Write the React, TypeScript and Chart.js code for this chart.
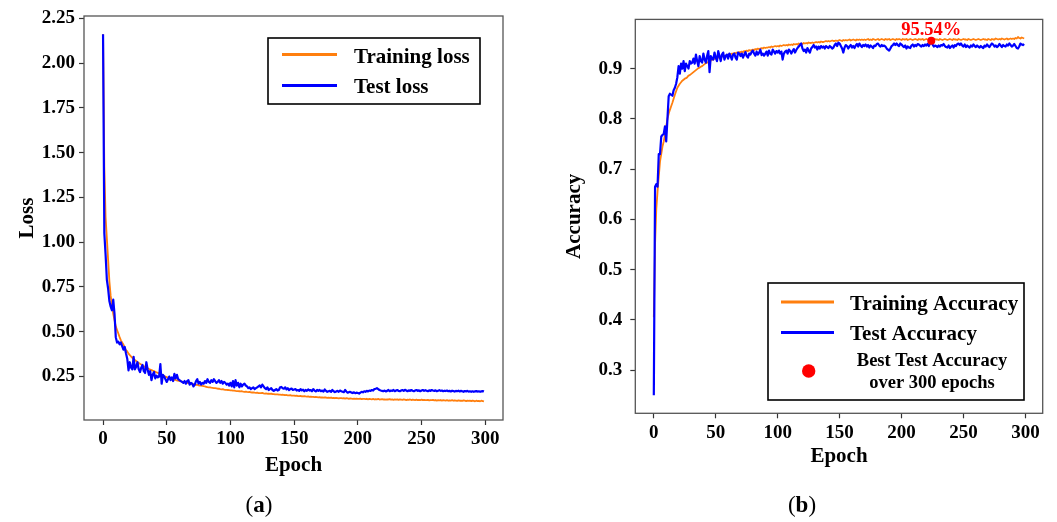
import React, { useEffect, useRef } from "react";
import { Chart, registerables } from "chart.js";

Chart.register(...registerables);

const FONT = "'Liberation Serif', 'Times New Roman', serif";
const ORANGE = "#ff7f0e";
const BLUE = "#0000ff";

const epochs: number[] = Array.from({ length: 300 }, (_, i) => i);

const trainLoss = [
  2.16, 1.42, 1.14, 1.02, 0.90, 0.78, 0.70, 0.65, 0.60, 0.565,
  0.53, 0.51, 0.49, 0.47, 0.452, 0.44, 0.428, 0.412, 0.398, 0.39,
  0.378, 0.37, 0.362, 0.355, 0.348, 0.342, 0.337, 0.331, 0.326, 0.321,
  0.317, 0.312, 0.308, 0.303, 0.300, 0.297, 0.292, 0.289, 0.286, 0.283,
  0.281, 0.277, 0.273, 0.271, 0.268, 0.266, 0.262, 0.257, 0.253, 0.25,
  0.247, 0.244, 0.241, 0.239, 0.237, 0.235, 0.232, 0.231, 0.228, 0.227,
  0.225, 0.224, 0.221, 0.22, 0.219, 0.216, 0.215, 0.214, 0.211, 0.21,
  0.209, 0.207, 0.206, 0.204, 0.204, 0.201, 0.2, 0.2, 0.198, 0.196,
  0.195, 0.193, 0.191, 0.19, 0.19, 0.188, 0.187, 0.186, 0.185, 0.184,
  0.182, 0.182, 0.18, 0.179, 0.18, 0.177, 0.176, 0.176, 0.175, 0.174,
  0.173, 0.173, 0.171, 0.172, 0.17, 0.169, 0.169, 0.168, 0.167, 0.168,
  0.166, 0.165, 0.166, 0.164, 0.163, 0.164, 0.162, 0.161, 0.162, 0.160,
  0.159, 0.160, 0.158, 0.158, 0.157, 0.159, 0.156, 0.155, 0.156, 0.154,
  0.154, 0.153, 0.155, 0.152, 0.152, 0.151, 0.150, 0.151, 0.149, 0.149,
  0.148, 0.149, 0.147, 0.146, 0.147, 0.145, 0.145, 0.146, 0.144, 0.143,
  0.144, 0.142, 0.143, 0.141, 0.141, 0.142, 0.140, 0.139, 0.141, 0.139,
  0.138, 0.139, 0.137, 0.138, 0.136, 0.137, 0.135, 0.136, 0.135, 0.134,
  0.135, 0.133, 0.134, 0.132, 0.134, 0.133, 0.131, 0.132, 0.131, 0.133,
  0.130, 0.131, 0.129, 0.131, 0.130, 0.128, 0.13, 0.129, 0.128, 0.129,
  0.127, 0.129, 0.128, 0.126, 0.128, 0.127, 0.126, 0.127, 0.125, 0.127,
  0.126, 0.125, 0.127, 0.124, 0.126, 0.125, 0.124, 0.126, 0.123, 0.125,
  0.124, 0.123, 0.125, 0.122, 0.124, 0.123, 0.125, 0.122, 0.123, 0.124,
  0.122, 0.123, 0.121, 0.123, 0.122, 0.124, 0.121, 0.122, 0.120, 0.122,
  0.121, 0.123, 0.120, 0.122, 0.121, 0.120, 0.122, 0.121, 0.119, 0.121,
  0.120, 0.122, 0.119, 0.121, 0.120, 0.119, 0.121, 0.118, 0.120, 0.119,
  0.121, 0.118, 0.120, 0.119, 0.118, 0.120, 0.117, 0.119, 0.118, 0.12,
  0.117, 0.119, 0.116, 0.118, 0.117, 0.119, 0.116, 0.118, 0.117, 0.116,
  0.118, 0.115, 0.117, 0.116, 0.118, 0.115, 0.117, 0.116, 0.114, 0.117,
  0.115, 0.116, 0.114, 0.117, 0.115, 0.113, 0.116, 0.114, 0.115, 0.113,
  0.116, 0.114, 0.112, 0.115, 0.113, 0.114, 0.112, 0.115, 0.113, 0.111,
];

const testLoss = [
  2.16, 1.05, 0.93, 0.79, 0.74, 0.67, 0.64, 0.62, 0.68, 0.60,
  0.47, 0.44, 0.445, 0.43, 0.44, 0.42, 0.40, 0.415, 0.38, 0.35,
  0.285, 0.33, 0.30, 0.29, 0.36, 0.29, 0.305, 0.33, 0.29, 0.275,
  0.30, 0.315, 0.28, 0.27, 0.33, 0.29, 0.26, 0.28, 0.23, 0.26,
  0.275, 0.24, 0.255, 0.245, 0.25, 0.32, 0.21, 0.26, 0.25, 0.235,
  0.22, 0.235, 0.25, 0.23, 0.245, 0.225, 0.265, 0.24, 0.26, 0.235,
  0.23, 0.225, 0.22, 0.215, 0.225, 0.21, 0.225, 0.23, 0.205, 0.215,
  0.21, 0.195, 0.205, 0.225, 0.235, 0.21, 0.22, 0.205, 0.215, 0.21,
  0.225, 0.215, 0.235, 0.22, 0.215, 0.23, 0.22, 0.235, 0.225, 0.215,
  0.22, 0.23, 0.215, 0.225, 0.21, 0.22, 0.215, 0.205, 0.21, 0.20,
  0.215, 0.195, 0.225, 0.19, 0.23, 0.20, 0.215, 0.19, 0.21, 0.195,
  0.205, 0.21, 0.2, 0.195, 0.185, 0.19, 0.18, 0.185, 0.19, 0.18,
  0.185, 0.19, 0.195, 0.2, 0.19, 0.205, 0.195, 0.185, 0.18, 0.19,
  0.175, 0.18, 0.185, 0.175, 0.17, 0.175, 0.18, 0.172, 0.175, 0.19,
  0.192, 0.185, 0.182, 0.19, 0.178, 0.185, 0.175, 0.18, 0.183, 0.175,
  0.178, 0.18, 0.172, 0.175, 0.17, 0.18, 0.173, 0.177, 0.168, 0.175,
  0.17, 0.178, 0.172, 0.175, 0.168, 0.18, 0.172, 0.167, 0.175, 0.17,
  0.175, 0.168, 0.172, 0.166, 0.178, 0.17, 0.165, 0.168, 0.17, 0.165,
  0.175, 0.168, 0.163, 0.167, 0.17, 0.165, 0.172, 0.168, 0.165, 0.163,
  0.175, 0.167, 0.16, 0.163, 0.165, 0.16, 0.158, 0.162, 0.157, 0.16,
  0.158, 0.155, 0.16, 0.165, 0.162, 0.168, 0.165, 0.17, 0.167, 0.172,
  0.17, 0.175, 0.172, 0.18, 0.182, 0.185, 0.18, 0.175, 0.172, 0.17,
  0.168, 0.172, 0.167, 0.17, 0.175, 0.168, 0.172, 0.17, 0.175, 0.168,
  0.172, 0.175, 0.17, 0.168, 0.172, 0.175, 0.17, 0.176, 0.172, 0.168,
  0.173, 0.17, 0.175, 0.171, 0.168, 0.172, 0.175, 0.17, 0.173, 0.168,
  0.172, 0.175, 0.17, 0.174, 0.171, 0.168, 0.173, 0.17, 0.175, 0.172,
  0.17, 0.173, 0.168, 0.171, 0.174, 0.17, 0.172, 0.168, 0.171, 0.169,
  0.172, 0.168, 0.17, 0.167, 0.171, 0.169, 0.166, 0.17, 0.168, 0.171,
  0.167, 0.17, 0.168, 0.165, 0.169, 0.167, 0.17, 0.166, 0.168, 0.165,
  0.168, 0.165, 0.167, 0.169, 0.166, 0.168, 0.165, 0.167, 0.169, 0.166,
];

const trainAcc = [
  0.405, 0.55, 0.62, 0.655, 0.685, 0.715, 0.73, 0.745, 0.755, 0.768,
  0.785, 0.80, 0.81, 0.818, 0.825, 0.832, 0.84, 0.848, 0.855, 0.862,
  0.866, 0.87, 0.873, 0.876, 0.878, 0.88, 0.881, 0.883, 0.886, 0.887,
  0.889, 0.891, 0.893, 0.895, 0.897, 0.899, 0.901, 0.902, 0.904, 0.905,
  0.907, 0.909, 0.911, 0.912, 0.913, 0.915, 0.916, 0.918, 0.918, 0.92,
  0.921, 0.921, 0.922, 0.923, 0.923, 0.924, 0.925, 0.925, 0.926, 0.927,
  0.928, 0.929, 0.929, 0.93, 0.93, 0.931, 0.931, 0.932, 0.932, 0.933,
  0.933, 0.934, 0.933, 0.935, 0.935, 0.936, 0.935, 0.937, 0.936, 0.937,
  0.938, 0.937, 0.939, 0.938, 0.94, 0.939, 0.94, 0.941, 0.94, 0.942,
  0.941, 0.942, 0.942, 0.943, 0.942, 0.944, 0.943, 0.944, 0.945, 0.944,
  0.945, 0.944, 0.946, 0.945, 0.946, 0.947, 0.946, 0.947, 0.946, 0.948,
  0.947, 0.948, 0.947, 0.949, 0.948, 0.949, 0.948, 0.95, 0.949, 0.95,
  0.949, 0.951, 0.95, 0.951, 0.95, 0.952, 0.951, 0.951, 0.952, 0.951,
  0.952, 0.953, 0.952, 0.953, 0.952, 0.954, 0.953, 0.953, 0.954, 0.955,
  0.954, 0.955, 0.954, 0.955, 0.956, 0.955, 0.955, 0.956, 0.955, 0.956,
  0.957, 0.956, 0.955, 0.957, 0.956, 0.957, 0.956, 0.957, 0.958, 0.956,
  0.957, 0.958, 0.957, 0.956, 0.958, 0.957, 0.958, 0.957, 0.958, 0.957,
  0.958, 0.957, 0.958, 0.959, 0.957, 0.958, 0.957, 0.959, 0.958, 0.957,
  0.958, 0.959, 0.957, 0.958, 0.959, 0.958, 0.957, 0.959, 0.958, 0.958,
  0.959, 0.957, 0.958, 0.959, 0.958, 0.957, 0.959, 0.958, 0.959, 0.958,
  0.957, 0.959, 0.958, 0.958, 0.959, 0.957, 0.958, 0.959, 0.958, 0.957,
  0.958, 0.959, 0.958, 0.957, 0.959, 0.958, 0.958, 0.959, 0.957, 0.958,
  0.959, 0.958, 0.957, 0.958, 0.959, 0.958, 0.957, 0.959, 0.958, 0.958,
  0.957, 0.959, 0.958, 0.957, 0.958, 0.959, 0.958, 0.957, 0.958, 0.959,
  0.958, 0.957, 0.959, 0.958, 0.958, 0.957, 0.959, 0.958, 0.957, 0.958,
  0.959, 0.958, 0.958, 0.957, 0.959, 0.958, 0.957, 0.958, 0.959, 0.958,
  0.957, 0.958, 0.959, 0.958, 0.957, 0.958, 0.959, 0.958, 0.958, 0.957,
  0.959, 0.958, 0.957, 0.959, 0.958, 0.958, 0.96, 0.959, 0.958, 0.959,
  0.958, 0.96, 0.959, 0.958, 0.959, 0.96, 0.958, 0.959, 0.96, 0.959,
  0.96, 0.959, 0.961, 0.96, 0.963, 0.961, 0.96, 0.962, 0.961, 0.96,
];

const testAcc = [
  0.25, 0.665, 0.67, 0.665, 0.73, 0.73, 0.765, 0.768, 0.77, 0.785,
  0.755, 0.80, 0.845, 0.85, 0.848, 0.846, 0.857, 0.862, 0.87, 0.883,
  0.905, 0.89, 0.91, 0.90, 0.915, 0.895, 0.91, 0.905, 0.90, 0.915,
  0.91, 0.912, 0.92, 0.91, 0.928, 0.915, 0.905, 0.925, 0.915, 0.912,
  0.93, 0.918, 0.912, 0.925, 0.935, 0.893, 0.925, 0.92, 0.918, 0.932,
  0.922, 0.915, 0.935, 0.925, 0.915, 0.928, 0.932, 0.918, 0.925, 0.928,
  0.92, 0.93, 0.925, 0.918, 0.928, 0.93, 0.922, 0.918, 0.932, 0.93,
  0.925, 0.93, 0.922, 0.928, 0.933, 0.925, 0.922, 0.93, 0.928, 0.933,
  0.936, 0.93, 0.926, 0.934, 0.928, 0.932, 0.938, 0.927, 0.93, 0.926,
  0.93, 0.934, 0.926, 0.936, 0.93, 0.928, 0.938, 0.934, 0.93, 0.935,
  0.932, 0.936, 0.93, 0.934, 0.918, 0.93, 0.934, 0.936, 0.93, 0.938,
  0.935, 0.93, 0.935, 0.939, 0.932, 0.937, 0.941, 0.944, 0.947, 0.95,
  0.94, 0.935, 0.938, 0.932, 0.941, 0.936, 0.932, 0.94, 0.943, 0.947,
  0.942, 0.944, 0.938, 0.944, 0.94, 0.945, 0.942, 0.944, 0.94, 0.945,
  0.943, 0.941, 0.945, 0.943, 0.94, 0.942, 0.947, 0.95, 0.945, 0.952,
  0.95, 0.945, 0.94, 0.932, 0.942, 0.947, 0.945, 0.94, 0.944, 0.947,
  0.942, 0.945, 0.941, 0.946, 0.949, 0.944, 0.95, 0.946, 0.943, 0.947,
  0.945, 0.948, 0.944, 0.947, 0.942, 0.946, 0.944, 0.941, 0.946, 0.945,
  0.949, 0.95, 0.946, 0.944, 0.947, 0.945, 0.946, 0.944, 0.94, 0.938,
  0.936, 0.94, 0.945, 0.947, 0.95, 0.947, 0.95, 0.947, 0.945, 0.95,
  0.948, 0.945, 0.943, 0.946, 0.94, 0.944, 0.942, 0.941, 0.946, 0.948,
  0.944, 0.947, 0.945, 0.949, 0.948, 0.946, 0.944, 0.947, 0.945, 0.948,
  0.946, 0.949, 0.945, 0.95, 0.9554, 0.948, 0.944, 0.946, 0.945, 0.943,
  0.946, 0.944, 0.947, 0.946, 0.949, 0.945, 0.943, 0.942, 0.946, 0.941,
  0.944, 0.946, 0.942, 0.947, 0.945, 0.949, 0.95, 0.947, 0.95, 0.946,
  0.944, 0.948, 0.943, 0.946, 0.944, 0.942, 0.946, 0.944, 0.948, 0.945,
  0.943, 0.946, 0.944, 0.942, 0.945, 0.943, 0.941, 0.946, 0.944, 0.948,
  0.945, 0.943, 0.947, 0.95, 0.948, 0.944, 0.946, 0.943, 0.945, 0.949,
  0.946, 0.943, 0.947, 0.945, 0.944, 0.948, 0.946, 0.95, 0.947, 0.944,
  0.946, 0.949, 0.945, 0.941, 0.94, 0.944, 0.95, 0.948, 0.947, 0.949,
];

const bestEpoch = 224;
const bestAcc = 0.9554;
const bestLabel = "95.54%";

const xTicks = [0, 50, 100, 150, 200, 250, 300];
const lossTicks = [0.25, 0.5, 0.75, 1.0, 1.25, 1.5, 1.75, 2.0, 2.25];
const accTicks = [0.3, 0.4, 0.5, 0.6, 0.7, 0.8, 0.9];

const toPoints = (vals: number[]) => epochs.map((e, i) => ({ x: e, y: vals[i] }));

const framePlugin = {
  id: "frame",
  beforeDatasetsDraw(chart: any) {
    const { ctx, chartArea: a } = chart;
    ctx.save();
    ctx.strokeStyle = "#555";
    ctx.lineWidth = 1.3;
    ctx.strokeRect(a.left, a.top, a.right - a.left, a.bottom - a.top);
    ctx.restore();
  },
};

const axisCommon = {
  grid: { display: true, drawOnChartArea: false, drawTicks: true, tickLength: 5, tickWidth: 1.2, color: "#333" },
  border: { display: false },
};

const tickFont = { family: FONT, size: 19, weight: "bold" };
const titleFont = { family: FONT, size: 21, weight: "bold" };

function LossChart() {
  const ref = useRef<HTMLCanvasElement>(null);
  useEffect(() => {
    const legendPlugin = {
      id: "lossLegend",
      afterDatasetsDraw(chart: any) {
        const ctx = chart.ctx;
        ctx.save();
        ctx.fillStyle = "#fff";
        ctx.fillRect(268, 38, 212, 66);
        ctx.strokeStyle = "#000";
        ctx.lineWidth = 1.6;
        ctx.strokeRect(268, 38, 212, 66);
        ctx.lineWidth = 3;
        ctx.strokeStyle = ORANGE;
        ctx.beginPath(); ctx.moveTo(282, 54.5); ctx.lineTo(337, 54.5); ctx.stroke();
        ctx.strokeStyle = BLUE;
        ctx.beginPath(); ctx.moveTo(282, 85.5); ctx.lineTo(337, 85.5); ctx.stroke();
        ctx.fillStyle = "#000";
        ctx.font = `bold 21px ${FONT}`;
        ctx.textAlign = "left";
        ctx.textBaseline = "alphabetic";
        ctx.fillText("Training loss", 354, 62.5);
        ctx.fillText("Test loss", 354, 93);
        ctx.restore();
      },
    };
    const chart = new Chart(ref.current!, {
      type: "line",
      data: {
        datasets: [
          { label: "Test loss", data: toPoints(testLoss), borderColor: BLUE, borderWidth: 2.2, pointRadius: 0, tension: 0, fill: false, borderJoinStyle: "round" },
          { label: "Training loss", data: toPoints(trainLoss), borderColor: ORANGE, borderWidth: 1.8, pointRadius: 0, tension: 0, fill: false, borderJoinStyle: "round" },
        ],
      },
      options: {
        responsive: false,
        animation: false,
        devicePixelRatio: 1,
        layout: { padding: { top: 16, right: 27, left: 0, bottom: 0 } },
        plugins: { legend: { display: false }, tooltip: { enabled: false } },
        scales: {
          x: {
            type: "linear",
            min: -14.95,
            max: 313.95,
            afterBuildTicks: (s: any) => { s.ticks = xTicks.map((v) => ({ value: v })); },
            afterFit: (s: any) => { s.height = 102; },
            ticks: { color: "#000", padding: 3, font: tickFont, maxRotation: 0, callback: (v: any) => String(v) },
            title: { display: true, text: "Epoch", color: "#000", font: titleFont, padding: { top: 0, bottom: 44 } },
            ...axisCommon,
          },
          y: {
            type: "linear",
            min: 0.0075,
            max: 2.2625,
            afterBuildTicks: (s: any) => { s.ticks = lossTicks.map((v) => ({ value: v })); },
            afterFit: (s: any) => { s.width = 84; },
            ticks: { color: "#000", padding: 4, font: tickFont, callback: (v: any) => Number(v).toFixed(2) },
            title: { display: true, text: "Loss", color: "#000", font: titleFont, padding: { top: 15, bottom: 0 } },
            ...axisCommon,
          },
        },
      } as any,
      plugins: [framePlugin, legendPlugin],
    });
    return () => chart.destroy();
  }, []);
  return <canvas ref={ref} width={530} height={522} style={{ position: "absolute", left: 0, top: 0 }} />;
}

function AccChart() {
  const ref = useRef<HTMLCanvasElement>(null);
  useEffect(() => {
    const legendPlugin = {
      id: "accLegend",
      afterDatasetsDraw(chart: any) {
        const ctx = chart.ctx;
        const xs = chart.scales.x;
        const ys = chart.scales.y;
        ctx.save();
        ctx.fillStyle = "#ff0000";
        ctx.font = `bold 18.5px ${FONT}`;
        ctx.textAlign = "center";
        ctx.textBaseline = "alphabetic";
        ctx.fillText(bestLabel, xs.getPixelForValue(bestEpoch), ys.getPixelForValue(bestAcc) - 6);
        ctx.fillStyle = "#fff";
        ctx.fillRect(238, 283, 256, 117);
        ctx.strokeStyle = "#000";
        ctx.lineWidth = 1.6;
        ctx.strokeRect(238, 283, 256, 117);
        ctx.lineWidth = 3;
        ctx.strokeStyle = ORANGE;
        ctx.beginPath(); ctx.moveTo(251, 302); ctx.lineTo(304, 302); ctx.stroke();
        ctx.strokeStyle = BLUE;
        ctx.beginPath(); ctx.moveTo(251, 332.5); ctx.lineTo(304, 332.5); ctx.stroke();
        ctx.fillStyle = "#ff0000";
        ctx.beginPath(); ctx.arc(278.7, 371, 6.7, 0, Math.PI * 2); ctx.fill();
        ctx.fillStyle = "#000";
        ctx.font = `bold 21px ${FONT}`;
        ctx.textAlign = "left";
        ctx.fillText("Training Accuracy", 320, 310);
        ctx.fillText("Test Accuracy", 320, 339.5);
        ctx.font = `bold 18.5px ${FONT}`;
        ctx.textAlign = "center";
        ctx.fillText("Best Test Accuracy", 402, 366);
        ctx.fillText("over 300 epochs", 402, 388);
        ctx.restore();
      },
    };
    const chart = new Chart(ref.current!, {
      type: "line",
      data: {
        datasets: [
          { label: "Best Test Accuracy", data: [{ x: bestEpoch, y: bestAcc }], showLine: false, pointRadius: 4, pointBackgroundColor: "#ff0000", pointBorderWidth: 0, borderColor: "#ff0000" },
          { label: "Test Accuracy", data: toPoints(testAcc), borderColor: BLUE, borderWidth: 2.2, pointRadius: 0, tension: 0, fill: false, borderJoinStyle: "round" },
          { label: "Training Accuracy", data: toPoints(trainAcc), borderColor: ORANGE, borderWidth: 1.8, pointRadius: 0, tension: 0, fill: false, borderJoinStyle: "round" },
        ],
      },
      options: {
        responsive: false,
        animation: false,
        devicePixelRatio: 1,
        layout: { padding: { top: 19.3, right: 14.3, left: 0, bottom: 0 } },
        plugins: { legend: { display: false }, tooltip: { enabled: false } },
        scales: {
          x: {
            type: "linear",
            min: -14.95,
            max: 313.95,
            afterBuildTicks: (s: any) => { s.ticks = xTicks.map((v) => ({ value: v })); },
            afterFit: (s: any) => { s.height = 108.7; },
            ticks: { color: "#000", padding: 3, font: tickFont, maxRotation: 0, callback: (v: any) => String(v) },
            title: { display: true, text: "Epoch", color: "#000", font: titleFont, padding: { top: 0, bottom: 52.7 } },
            ...axisCommon,
          },
          y: {
            type: "linear",
            min: 0.214,
            max: 0.998,
            afterBuildTicks: (s: any) => { s.ticks = accTicks.map((v) => ({ value: v })); },
            afterFit: (s: any) => { s.width = 105.3; },
            ticks: { color: "#000", padding: 8, font: tickFont, callback: (v: any) => Number(v).toFixed(1) },
            title: { display: true, text: "Accuracy", color: "#000", font: titleFont, padding: { top: 32.4, bottom: 0 } },
            ...axisCommon,
          },
        },
      } as any,
      plugins: [framePlugin, legendPlugin],
    });
    return () => chart.destroy();
  }, []);
  return <canvas ref={ref} width={527} height={522} style={{ position: "absolute", left: 530, top: 0 }} />;
}

const captionStyle: React.CSSProperties = {
  position: "absolute",
  top: 491,
  width: 100,
  textAlign: "center",
  fontFamily: FONT,
  fontSize: 23,
  lineHeight: "27px",
  color: "#000",
};

export default function App() {
  return (
    <div style={{ position: "fixed", left: 0, top: 0, width: 1057, height: 522, background: "#fff", overflow: "hidden" }}>
      <LossChart />
      <AccChart />
      <div style={{ ...captionStyle, left: 209 }}>(<b>a</b>)</div>
      <div style={{ ...captionStyle, left: 752 }}>(<b>b</b>)</div>
    </div>
  );
}
